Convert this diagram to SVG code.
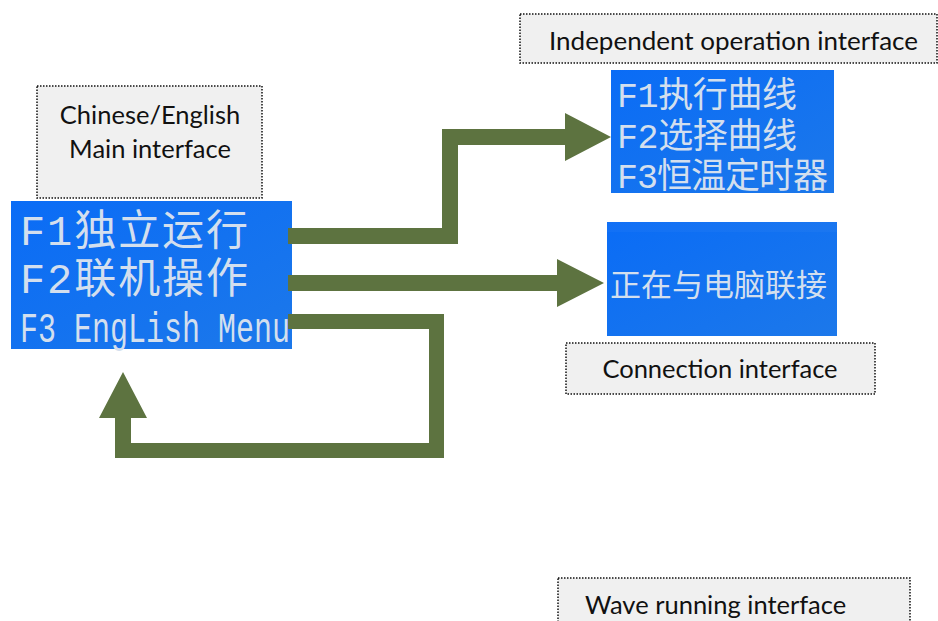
<svg xmlns="http://www.w3.org/2000/svg" width="938" height="621" viewBox="0 0 938 621">
<style>
.lbl{fill:#f0f0f0;stroke:#111;stroke-width:1.5;stroke-dasharray:1.5 1.5}
.lt{font-family:Lato,"Open Sans","Liberation Sans",sans-serif;font-size:25.5px;fill:#111}
.lcd{fill:url(#blue)}
.lcdt{font-family:"Liberation Mono","Noto Sans CJK SC",monospace;fill:#d3dfee}
.arrow{fill:#5d7340}
</style>
<defs>
<linearGradient id="blue" x1="0" y1="0" x2="1" y2="1">
<stop offset="0" stop-color="#0a6cf6"/>
<stop offset="1" stop-color="#1c78ea"/>
</linearGradient>
</defs>
<rect width="938" height="621" fill="#fff"/>

<g id="node-main-label">
<rect class="lbl" x="37" y="86" width="225" height="112"/>
<text class="lt" x="150" y="124" text-anchor="middle">Chinese/English</text>
<text class="lt" x="150" y="158" text-anchor="middle">Main interface</text>
</g>

<g id="node-main">
<rect class="lcd" x="11" y="201" width="281" height="148"/>
<text class="lcdt" x="20" y="245" font-size="42" textLength="228" lengthAdjust="spacing">F1独立运行</text>
<text class="lcdt" x="20" y="293" font-size="42" textLength="228" lengthAdjust="spacing">F2联机操作</text>
<text class="lcdt" x="20" y="342" font-size="43" textLength="270" lengthAdjust="spacingAndGlyphs">F3 EngLish Menu</text>
</g>

<g id="node-indep-label">
<rect class="lbl" x="520" y="14" width="417" height="49"/>
<text class="lt" x="549" y="50" textLength="369" lengthAdjust="spacingAndGlyphs">Independent operation interface</text>
</g>

<g id="node-indep">
<rect class="lcd" x="611" y="70" width="223" height="123"/>
<text class="lcdt" x="617" y="107" font-size="35" textLength="180" lengthAdjust="spacing">F1执行曲线</text>
<text class="lcdt" x="617" y="148" font-size="35" textLength="180" lengthAdjust="spacing">F2选择曲线</text>
<text class="lcdt" x="617" y="188" font-size="35" textLength="211" lengthAdjust="spacing">F3恒温定时器</text>
</g>

<g id="node-conn">
<rect class="lcd" x="607" y="222" width="230" height="114"/>
<rect x="607" y="222" width="230" height="10" fill="#fff" opacity="0.03"/>
<text class="lcdt" x="610" y="296" font-size="31" textLength="217" lengthAdjust="spacing" fill="#c8d8ec">正在与电脑联接</text>
</g>

<g id="node-conn-label">
<rect class="lbl" x="566" y="343" width="309" height="51"/>
<text class="lt" x="720" y="378" text-anchor="middle">Connection interface</text>
</g>

<g id="node-wave-label">
<rect class="lbl" x="558" y="578" width="352" height="60"/>
<text class="lt" x="585" y="614">Wave running interface</text>
</g>

<g id="connectors">
<path class="arrow" d="M288,228 H442 V129 H565 V113 L611,137 L565,161 V145 H458 V244 H288 Z"/>
<path class="arrow" d="M288,275 H557 V259 L604,283 L557,307 V291 H288 Z"/>
<path class="arrow" d="M288,314 H444 V458 H115 V418 H99 L123,372 L147,418 H131 V443 H429 V329 H288 Z"/>
</g>
</svg>
